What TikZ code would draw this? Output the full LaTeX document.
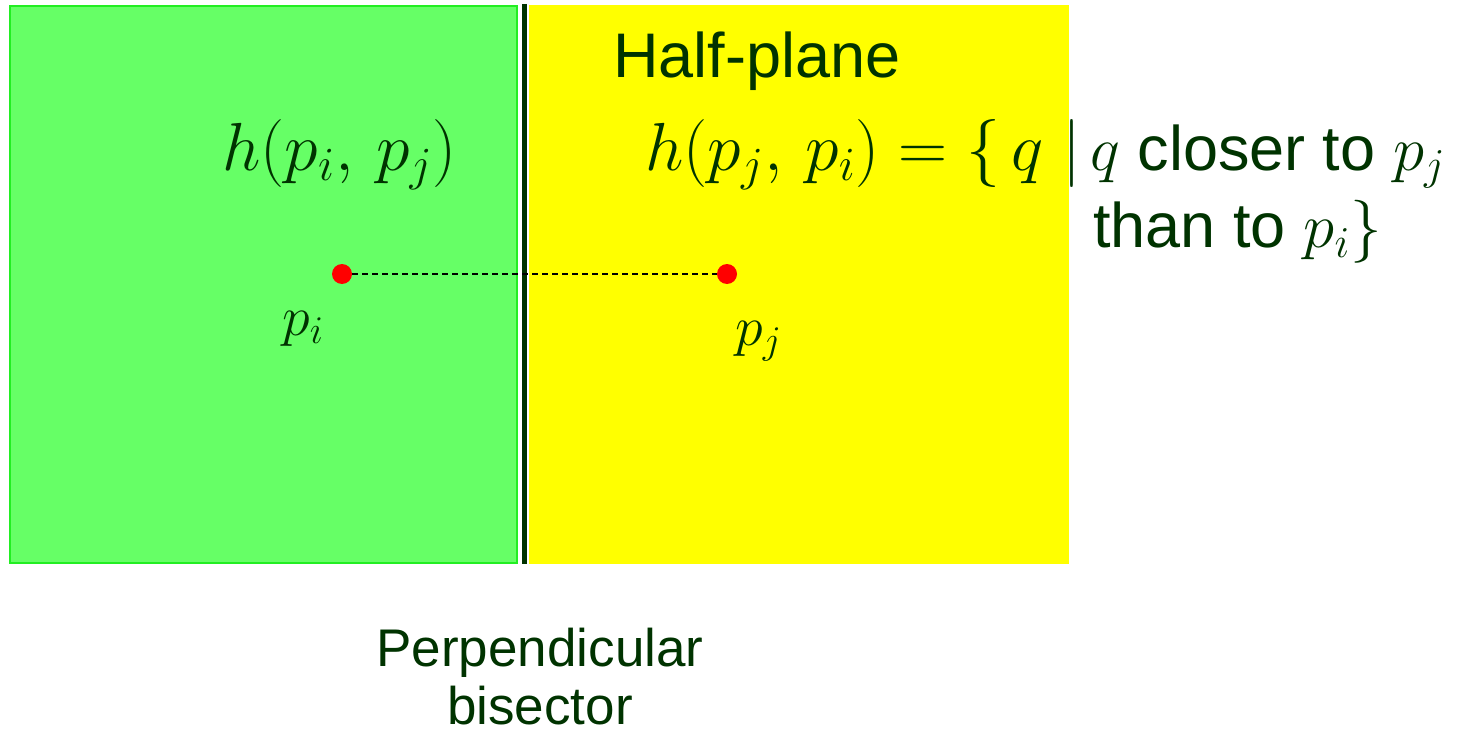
\documentclass[tikz,border=0pt]{standalone}
\usepackage{fix-cm}
\usepackage{fontspec}
\setmainfont{Liberation Sans}
\usepackage{amsmath}
\usepackage{xcolor}
\usetikzlibrary{positioning}
\definecolor{regiongreen}{HTML}{66FF66}
\definecolor{edgegreen}{HTML}{22EE22}
\definecolor{regionyellow}{HTML}{FFFF00}
\definecolor{inkgreen}{HTML}{003300}
\definecolor{siteRed}{HTML}{FF0000}

\begin{document}
\begin{tikzpicture}[
  x=0.5pt, y=-0.5pt,
  lbl/.style={inner sep=0pt, text=inkgreen, font=\fontsize{31.5}{38}\selectfont},
  mathlbl/.style={inner sep=0pt, text=inkgreen, font=\fontsize{34}{40}\selectfont},
  sitelbl/.style={inner sep=0pt, text=inkgreen, font=\fontsize{28}{32}\selectfont},
  site/.style={circle, fill=siteRed, inner sep=0pt, minimum size=10pt},
  joinline/.style={dashed, line width=0.6pt, dash pattern=on 3pt off 2pt}
]
\useasboundingbox (0,0) rectangle (1474,733);

% the two half-planes
\fill[regiongreen, draw=edgegreen, line width=1pt] (10,6) rectangle (517,563);
\fill[regionyellow] (529,5) rectangle (1069,564);
\coordinate (bistop) at (524.5,4);
\coordinate (bisbot) at (524.5,564);
\draw[inkgreen, line width=2.5pt] (bistop) -- (bisbot);

% labels
\node[lbl, anchor=base west] (title) at (613,78) {Half-plane};
\node[mathlbl, anchor=base west] (hij) at (222,170) {$h(p_i,\,p_j)$};
\node[mathlbl, anchor=base west] (hji) at (645,170) {$h(p_j,\,p_i)=\{\,q\;|$};
\node[lbl, anchor=base west] (def1) at (1090,170) {$q$ closer to $p_j$};
\node[lbl, anchor=base west] (def2) at (1093,248) {than to $p_i\}$};

% the two sites
\node[site] (pi) at (342,274) {};
\node[site] (pj) at (727,274) {};
\draw[joinline] (pi) -- (pj);
\node[sitelbl, anchor=base west] (pilbl) at (282,335) {$p_i$};
\node[sitelbl, anchor=base west] (pjlbl) at (735,345) {$p_j$};

\node[lbl, font=\fontsize{26.5}{29}\selectfont, align=center, anchor=north] (bis) at (540,628) {Perpendicular\\bisector};
\end{tikzpicture}
\end{document}
